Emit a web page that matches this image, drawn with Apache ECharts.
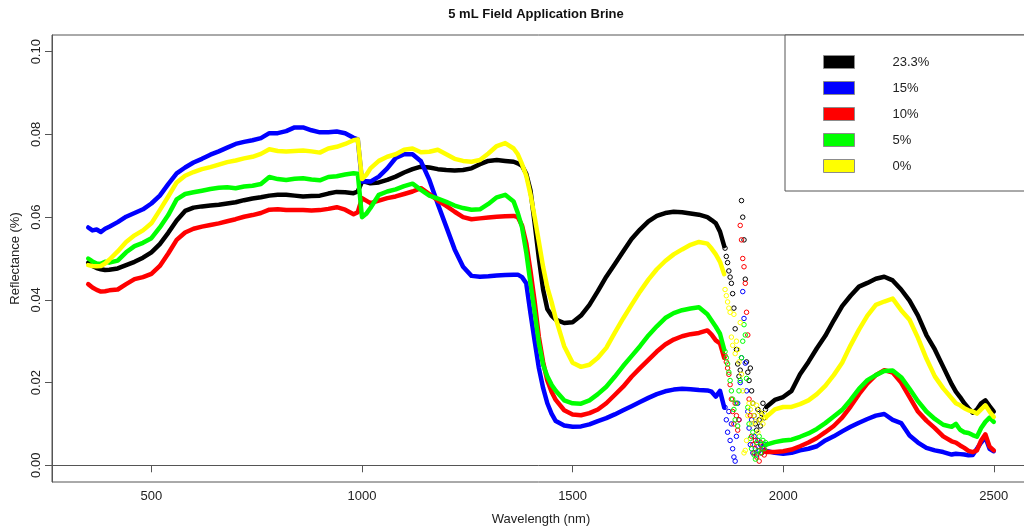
<!DOCTYPE html>
<html><head><meta charset="utf-8">
<script src="https://cdn.jsdelivr.net/npm/echarts@6/dist/echarts.min.js"></script>
<style>html,body{margin:0;padding:0;background:#fff}#c{width:1024px;height:529px}</style>
</head><body><div id="c"></div>
<script>
const chartTitle = '5 mL Field Application Brine';
const xName = 'Wavelength (nm)';
const yName = 'Reflectance (%)';
const seriesNames = ['23.3%', '15%', '10%', '5%', '0%'];
const seriesColors = ['#000000', '#0000ff', '#ff0000', '#00ff00', '#ffff00'];
const xTicks = [500, 1000, 1500, 2000, 2500];
const yTicks = [0, 0.02, 0.04, 0.06, 0.08, 0.10];

const wavelengths = [350,360,370,380,390,400,420,440,460,480,500,520,540,560,580,600,620,640,660,680,700,720,740,760,780,800,820,840,860,880,900,920,940,960,980,990,1000,1010,1020,1040,1060,1080,1100,1120,1140,1160,1180,1200,1220,1240,1260,1280,1300,1320,1340,1360,1370,1380,1390,1400,1410,1420,1430,1440,1450,1460,1480,1500,1520,1540,1560,1580,1600,1620,1640,1660,1680,1700,1720,1740,1760,1780,1800,1820,1830,1840,1850,1860,
1960,1980,2000,2020,2040,2060,2080,2100,2120,2140,2160,2180,2200,2220,2240,2260,2280,2300,2320,2340,2360,2380,2400,2410,2420,2430,2440,2450,2460,2470,2480,2490,2500];

const black = [0.0490,0.0482,0.0477,0.0474,0.0472,0.0473,0.0476,0.0484,0.0492,0.0502,0.0515,0.0535,0.0562,0.0592,0.0615,0.0623,0.0626,0.0628,0.0630,0.0633,0.0636,0.0641,0.0645,0.0648,0.0652,0.0654,0.0654,0.0652,0.0650,0.0651,0.0652,0.0657,0.0661,0.0660,0.0658,0.0662,0.0686,0.0685,0.0682,0.0684,0.0690,0.0698,0.0708,0.0716,0.0722,0.0720,0.0716,0.0714,0.0713,0.0714,0.0718,0.0728,0.0736,0.0738,0.0736,0.0734,0.0730,0.0724,0.0705,0.0665,0.0585,0.0500,0.0425,0.0378,0.0362,0.0352,0.0344,0.0346,0.0362,0.0388,0.0421,0.0456,0.0486,0.0517,0.0547,0.0570,0.0590,0.0603,0.0610,0.0613,0.0612,0.0609,0.0606,0.0600,0.0593,0.0585,0.0565,0.0530,
0.0141,0.0158,0.0165,0.0180,0.0220,0.0250,0.0283,0.0313,0.0350,0.0385,0.0410,0.0432,0.0441,0.0451,0.0456,0.0447,0.0425,0.0398,0.0362,0.0315,0.0280,0.0238,0.0196,0.0178,0.0165,0.0150,0.0138,0.0127,0.0135,0.0150,0.0157,0.0143,0.0130];

const blue = [0.0575,0.0568,0.0570,0.0564,0.0572,0.0577,0.0588,0.0601,0.0610,0.0619,0.0633,0.0652,0.0680,0.0706,0.0720,0.0732,0.0741,0.0751,0.0759,0.0768,0.0777,0.0782,0.0786,0.0791,0.0803,0.0803,0.0808,0.0817,0.0817,0.0810,0.0805,0.0805,0.0807,0.0803,0.0792,0.0788,0.0686,0.0687,0.0686,0.0698,0.0718,0.0743,0.0752,0.0752,0.0735,0.0690,0.0632,0.0577,0.0522,0.0480,0.0458,0.0456,0.0457,0.0459,0.0460,0.0461,0.0461,0.0455,0.0440,0.0368,0.0300,0.0235,0.0187,0.0150,0.0125,0.0107,0.0096,0.0093,0.0094,0.0099,0.0107,0.0114,0.0123,0.0133,0.0143,0.0153,0.0163,0.0172,0.0179,0.0183,0.0185,0.0184,0.0182,0.0181,0.0178,0.0166,0.0180,0.0140,
0.0035,0.0030,0.0028,0.0030,0.0036,0.0040,0.0046,0.0060,0.0070,0.0082,0.0093,0.0103,0.0112,0.0120,0.0124,0.0110,0.0102,0.0072,0.0055,0.0042,0.0036,0.0032,0.0026,0.0028,0.0027,0.0026,0.0024,0.0025,0.0040,0.0055,0.0068,0.0040,0.0034];

const red = [0.0438,0.0430,0.0424,0.0420,0.0421,0.0423,0.0425,0.0438,0.0450,0.0455,0.0463,0.0482,0.0512,0.0545,0.0563,0.0572,0.0577,0.0581,0.0585,0.0590,0.0595,0.0601,0.0605,0.0610,0.0618,0.0619,0.0617,0.0617,0.0617,0.0616,0.0617,0.0620,0.0624,0.0618,0.0607,0.0612,0.0646,0.0640,0.0634,0.0640,0.0646,0.0650,0.0656,0.0662,0.0670,0.0656,0.0640,0.0627,0.0613,0.0600,0.0595,0.0597,0.0599,0.0601,0.0602,0.0603,0.0600,0.0580,0.0537,0.0470,0.0395,0.0310,0.0250,0.0205,0.0178,0.0158,0.0133,0.0123,0.0121,0.0126,0.0135,0.0150,0.0170,0.0190,0.0214,0.0235,0.0255,0.0275,0.0292,0.0304,0.0312,0.0317,0.0320,0.0326,0.0316,0.0302,0.0295,0.0260,
0.0032,0.0032,0.0034,0.0038,0.0046,0.0055,0.0066,0.0080,0.0095,0.0115,0.0142,0.0172,0.0198,0.0218,0.0230,0.0224,0.0200,0.0165,0.0130,0.0108,0.0090,0.0070,0.0058,0.0055,0.0048,0.0042,0.0035,0.0032,0.0036,0.0060,0.0075,0.0045,0.0036];

const green = [0.0500,0.0493,0.0488,0.0487,0.0492,0.0490,0.0495,0.0515,0.0530,0.0538,0.0549,0.0575,0.0605,0.0643,0.0656,0.0660,0.0664,0.0668,0.0671,0.0672,0.0670,0.0674,0.0676,0.0680,0.0697,0.0692,0.0690,0.0693,0.0694,0.0691,0.0689,0.0697,0.0699,0.0703,0.0706,0.0705,0.0600,0.0608,0.0622,0.0654,0.0662,0.0667,0.0675,0.0681,0.0666,0.0652,0.0645,0.0637,0.0628,0.0622,0.0618,0.0619,0.0632,0.0648,0.0654,0.0638,0.0610,0.0575,0.0515,0.0440,0.0370,0.0295,0.0243,0.0215,0.0195,0.0180,0.0157,0.0150,0.0149,0.0157,0.0172,0.0190,0.0214,0.0240,0.0264,0.0288,0.0314,0.0336,0.0356,0.0368,0.0375,0.0379,0.0382,0.0365,0.0350,0.0335,0.0318,0.0280,
0.0050,0.0056,0.0060,0.0062,0.0069,0.0077,0.0088,0.0102,0.0118,0.0134,0.0158,0.0185,0.0206,0.0218,0.0228,0.0229,0.0213,0.0185,0.0155,0.0130,0.0112,0.0098,0.0093,0.0100,0.0086,0.0080,0.0078,0.0073,0.0069,0.0090,0.0105,0.0115,0.0105];

const yellow = [0.0484,0.0482,0.0481,0.0482,0.0488,0.0497,0.0517,0.0540,0.0556,0.0568,0.0585,0.0617,0.0650,0.0684,0.0700,0.0709,0.0716,0.0721,0.0727,0.0733,0.0737,0.0742,0.0746,0.0753,0.0764,0.0760,0.0759,0.0760,0.0761,0.0759,0.0756,0.0766,0.0770,0.0777,0.0786,0.0788,0.0692,0.0702,0.0718,0.0736,0.0746,0.0752,0.0763,0.0766,0.0757,0.0758,0.0763,0.0752,0.0741,0.0736,0.0734,0.0738,0.0754,0.0772,0.0779,0.0766,0.0752,0.0728,0.0700,0.0655,0.0600,0.0540,0.0480,0.0430,0.0395,0.0355,0.0288,0.0248,0.0238,0.0243,0.0260,0.0284,0.0320,0.0355,0.0388,0.0420,0.0449,0.0474,0.0494,0.0510,0.0522,0.0533,0.0540,0.0536,0.0524,0.0510,0.0492,0.0462,
0.0117,0.0135,0.0141,0.0141,0.0148,0.0157,0.0172,0.0192,0.0218,0.0248,0.0290,0.0328,0.0362,0.0388,0.0396,0.0403,0.0375,0.0352,0.0308,0.0258,0.0215,0.0186,0.0162,0.0150,0.0145,0.0138,0.0133,0.0130,0.0125,0.0135,0.0145,0.0130,0.0117];

const noiseWavelengths = [1862,1865,1868,1871,1874,1877,1880,1883,1886,1889,1892,1895,1898,1901,1904,1907,1910,1913,1916,1919,1922,1925,1928,1931,1934,1937,1940,1943,1946,1949,1952,1955,1958];
const blackNoise  = [0.0525,0.0505,0.0490,0.0470,0.0455,0.0440,0.0415,0.0380,0.0330,0.0280, 0.0245,0.0215,0.0230,0.0640,0.0600,0.0545,0.0450,0.0250,0.0225,0.0205, 0.0235,0.0180,0.0150,0.0120,0.0100,0.0085,0.0135,0.0110,0.0095,0.0125, 0.0150,0.0115,0.0135];
const blueNoise   = [0.0140,0.0110,0.0080,0.0130,0.0060,0.0100,0.0040,0.0020,0.0010,0.0070, 0.0150,0.0110,0.0200,0.0260,0.0420,0.0355,0.0247,0.0180,0.0130,0.0090, 0.0050,0.0110,0.0030,0.0070,0.0040,0.0025,0.0060,0.0035,0.0050,0.0030, 0.0045,0.0035,0.0050];
const redNoise    = [0.0265,0.0250,0.0235,0.0220,0.0195,0.0160,0.0130,0.0100,0.0150,0.0120, 0.0085,0.0110,0.0580,0.0545,0.0500,0.0480,0.0440,0.0370,0.0315,0.0160, 0.0120,0.0070,0.0050,0.0030,0.0060,0.0020,0.0045,0.0010,0.0055,0.0030, 0.0040,0.0025,0.0035];
const greenNoise  = [0.0275,0.0260,0.0245,0.0225,0.0205,0.0180,0.0160,0.0135,0.0110,0.0150, 0.0095,0.0180,0.0205,0.0260,0.0300,0.0340,0.0315,0.0210,0.0140,0.0100, 0.0065,0.0040,0.0080,0.0025,0.0015,0.0055,0.0035,0.0070,0.0030,0.0050, 0.0060,0.0040,0.0055];
const yellowNoise = [0.0425,0.0410,0.0395,0.0380,0.0370,0.0310,0.0290,0.0365,0.0270,0.0300, 0.0280,0.0250,0.0345,0.0220,0.0180,0.0030,0.0036,0.0060,0.0120,0.0150, 0.0135,0.0100,0.0150,0.0120,0.0105,0.0145,0.0080,0.0130,0.0110,0.0120, 0.0100,0.0125,0.0115];

const seriesValues = [black, blue, red, green, yellow];
const seriesNoise = [blackNoise, blueNoise, redNoise, greenNoise, yellowNoise];

function lineData(vals) {
  const out = [];
  for (let i = 0; i < wavelengths.length; i++) {
    if (i > 0 && wavelengths[i] - wavelengths[i - 1] > 50) out.push([wavelengths[i - 1] + 1, null]);
    out.push([wavelengths[i], vals[i]]);
  }
  return out;
}

const FONT = '"Liberation Sans", Arial, sans-serif';
const series = [];
seriesNames.forEach((n, k) => {
  series.push({
    type: 'scatter', name: n, silent: true, symbol: 'circle', symbolSize: 4.5,
    itemStyle: { color: 'rgba(0,0,0,0)', borderColor: seriesColors[k], borderWidth: 1, opacity: 1 },
    data: noiseWavelengths.map((w, i) => [w, seriesNoise[k][i]]), z: 3 + k
  });
});
seriesNames.forEach((n, k) => {
  series.push({
    type: 'line', name: n, silent: true, symbol: 'none', showSymbol: false, connectNulls: false,
    lineStyle: { color: seriesColors[k], width: 4.5, join: 'round', cap: 'round' },
    itemStyle: { color: seriesColors[k] },
    data: lineData(seriesValues[k]), z: 3 + k
  });
});

const chart = echarts.init(document.getElementById('c'), null, { renderer: 'canvas' });
chart.setOption({
  animation: false,
  backgroundColor: '#ffffff',
  textStyle: { fontFamily: FONT },
  title: {
    text: chartTitle, left: 536, top: 8, textAlign: 'center', padding: 0,
    textStyle: { fontSize: 13, fontWeight: 'bold', color: '#111', fontFamily: FONT }
  },
  legend: {
    orient: 'vertical', left: 785, top: 35, padding: [20, 200, 18, 38],
    itemWidth: 31, itemHeight: 13, itemGap: 12, selectedMode: false,
    backgroundColor: '#ffffff', borderColor: '#555', borderWidth: 1, borderRadius: 0,
    textStyle: { fontSize: 13, color: '#222', fontFamily: FONT, lineHeight: 13, padding: [0, 0, 0, 33] },
    data: seriesNames.map((n, k) => ({ name: n, icon: 'rect', itemStyle: { color: seriesColors[k], opacity: 1, borderColor: '#8c8c8c', borderWidth: 1 } })),
    z: 20
  },
  grid: { left: 52, top: 35, width: 978, height: 447, show: true, borderColor: '#555', borderWidth: 1,
    backgroundColor: 'transparent', containLabel: false, outerBoundsMode: 'none' },
  xAxis: {
    type: 'value', min: 264, max: 2586,
    axisLine: { show: true, lineStyle: { color: '#555', width: 1 } },
    axisTick: { show: true, customValues: xTicks, length: 7, lineStyle: { color: '#555' } },
    axisLabel: { customValues: xTicks, fontSize: 13, color: '#222', margin: 8, fontFamily: FONT,
      formatter: v => String(v) },
    splitLine: { show: false },
    name: xName, nameLocation: 'middle', nameGap: 31,
    nameTextStyle: { fontSize: 13, color: '#222', fontFamily: FONT }
  },
  yAxis: {
    type: 'value', min: -0.00404, max: 0.10404,
    axisLine: { show: true, lineStyle: { color: '#555', width: 1 } },
    axisTick: { show: true, customValues: yTicks, length: 7, lineStyle: { color: '#555' } },
    axisLabel: { customValues: yTicks, rotate: 90, fontSize: 13, color: '#222', margin: 9, fontFamily: FONT,
      formatter: v => Number(v).toFixed(2) },
    splitLine: { show: false },
    name: yName, nameLocation: 'middle', nameGap: 30,
    nameTextStyle: { fontSize: 13, color: '#222', fontFamily: FONT }
  },
  series: series
});
</script>
</body></html>
